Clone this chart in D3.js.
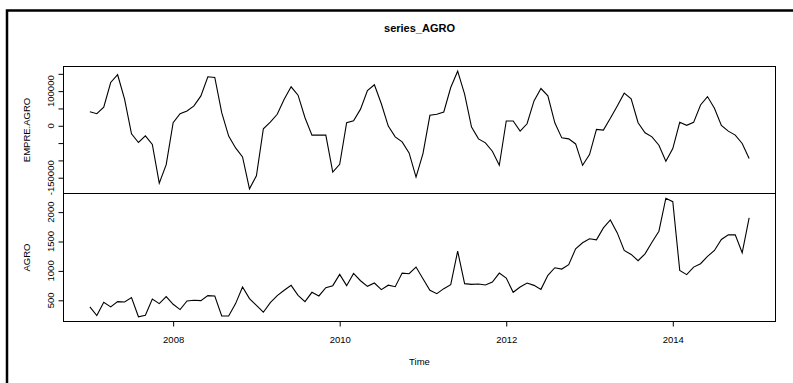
<!DOCTYPE html>
<html>
<head>
<meta charset="utf-8">
<script src="https://cdn.jsdelivr.net/npm/d3@7"></script>
<style>
  html, body { margin: 0; padding: 0; background: #fff; }
  svg { display: block; }
  text { font-family: "Liberation Sans", Arial, Helvetica, sans-serif; fill: #000; }
</style>
</head>
<body>
<svg id="chart" width="793" height="383"></svg>
<script>
// Monthly series, Jan 2007 .. Dec 2014
const startYear = 2007;
const empreAgro = [
  40700, 34900, 53500, 125000, 147400, 76700, -23300, -48300, -29100, -54100, -165700, -112200,
  8700, 34900, 42700, 57300, 86300, 141600, 139500, 37800, -29900, -64000, -90100, -182000,
  -144200, -8700, 10800, 33100, 76700, 112500, 88400, 23300, -27000, -27000, -27000, -133700,
  -111300, 8700, 14500, 48000, 102000, 118500, 63500, -900, -32000, -46500, -78500, -148300,
  -80200, 30200, 33100, 39800, 110500, 157600, 91300, -3800, -37800, -49400, -73500, -114200,
  13700, 13700, -15400, 5800, 71800, 107600, 86300, 8700, -34900, -37800, -52500, -114200,
  -83200, -10500, -12500, 21500, 57300, 94200, 77600, 8700, -20300, -32000, -56100, -102600,
  -65700, 9900, 1200, 9900, 60200, 84300, 50600, 1200, -15400, -27000, -51200, -94800
];
const agro = [
  387, 240, 466, 387, 478, 472, 545, 220, 246, 522, 444, 562,
  432, 342, 489, 500, 494, 579, 574, 234, 234, 444, 726, 528,
  415, 297, 460, 579, 670, 754, 585, 478, 636, 574, 715, 749,
  941, 749, 958, 833, 737, 794, 681, 757, 731, 963, 952, 1065,
  867, 670, 613, 698, 766, 1336, 783, 771, 777, 760, 811, 963,
  878, 636, 726, 794, 754, 686, 924, 1054, 1031, 1105, 1376, 1478,
  1546, 1529, 1732, 1868, 1647, 1348, 1280, 1173, 1291, 1488, 1675, 2236,
  2178, 1009, 936, 1065, 1122, 1246, 1348, 1534, 1613, 1613, 1308, 1902
];
const topTicks = [-150000, -100000, -50000, 0, 50000, 100000, 150000];
const topTickLabels = [-150000, 0, 100000];
const bottomTicks = [500, 1000, 1500, 2000];
const xTicks = [2008, 2010, 2012, 2014];
const titleText = "series_AGRO";
const topLabel = "EMPRE.AGRO";
const bottomLabel = "AGRO";
const xLabel = "Time";

const svg = d3.select("#chart");
const fontSize = 9.5;

// R-style axis extension: 4% on each side of the data range
function padded(ext) {
  const r = ext[1] - ext[0];
  return [ext[0] - 0.04 * r, ext[1] + 0.04 * r];
}

const times = empreAgro.map((_, i) => startYear + i / 12);
const plotL = 63.5, plotR = 775.5;
const topY0 = 66.5, midY = 193.5, botY1 = 321.5;

const x = d3.scaleLinear().domain(padded(d3.extent(times))).range([plotL, plotR]);
const yTop = d3.scaleLinear().domain(padded(d3.extent(empreAgro))).range([midY, topY0]);
const yBot = d3.scaleLinear().domain(padded(d3.extent(agro))).range([botY1, midY]);

// outer device frame (only top and left edges fall inside the page)
svg.append("rect")
  .attr("x", 7).attr("y", 10.5).attr("width", 900).attr("height", 500)
  .attr("fill", "none").attr("stroke", "#000").attr("stroke-width", 2.5);

// title
svg.append("text")
  .attr("x", (plotL + plotR) / 2).attr("y", 32)
  .attr("text-anchor", "middle")
  .style("font-size", "11px").style("font-weight", "bold")
  .text(titleText);

// panel boxes
[[topY0, midY], [midY, botY1]].forEach(([a, b]) => {
  svg.append("rect")
    .attr("x", plotL).attr("y", a).attr("width", plotR - plotL).attr("height", b - a)
    .attr("fill", "none").attr("stroke", "#000").attr("stroke-width", 1);
});

// left axes
function leftAxis(scale, ticks, labels) {
  const g = svg.append("g").attr("transform", `translate(${plotL},0)`);
  g.call(d3.axisLeft(scale).tickValues(ticks).tickSize(5).tickSizeOuter(0).tickFormat(""));
  g.select(".domain").attr("d", `M0,${scale(d3.min(ticks))}V${scale(d3.max(ticks))}`);
  g.selectAll("line, path").attr("stroke", "#000");
  labels.forEach(v => {
    g.append("text")
      .attr("transform", `translate(-10,${scale(v)}) rotate(-90)`)
      .attr("text-anchor", "middle")
      .style("font-size", fontSize + "px")
      .text(v);
  });
  return g;
}
leftAxis(yTop, topTicks, topTickLabels);
leftAxis(yBot, bottomTicks, bottomTicks);

// y titles
svg.append("text")
  .attr("transform", `translate(30,${(topY0 + midY) / 2}) rotate(-90)`)
  .attr("text-anchor", "middle").style("font-size", fontSize + "px")
  .text(topLabel);
svg.append("text")
  .attr("transform", `translate(30,${(midY + botY1) / 2}) rotate(-90)`)
  .attr("text-anchor", "middle").style("font-size", fontSize + "px")
  .text(bottomLabel);

// bottom time axis
const gx = svg.append("g").attr("transform", `translate(0,${botY1})`);
gx.call(d3.axisBottom(x).tickValues(xTicks).tickSize(5).tickSizeOuter(0).tickFormat(d3.format("d")));
gx.select(".domain").attr("d", `M${x(d3.min(xTicks))},0H${x(d3.max(xTicks))}`);
gx.selectAll("line, path").attr("stroke", "#000");
gx.selectAll("text").attr("y", 21).attr("dy", 0).style("font-size", fontSize + "px")
  .style("font-family", '"Liberation Sans", Arial, sans-serif').attr("fill", "#000");

svg.append("text")
  .attr("x", (plotL + plotR) / 2).attr("y", 365)
  .attr("text-anchor", "middle").style("font-size", fontSize + "px")
  .text(xLabel);

// series lines
const lineTop = d3.line().x((d, i) => x(times[i])).y(d => yTop(d));
const lineBot = d3.line().x((d, i) => x(times[i])).y(d => yBot(d));

svg.append("path").datum(empreAgro)
  .attr("d", lineTop).attr("fill", "none").attr("stroke", "#000").attr("stroke-width", 1.1);
svg.append("path").datum(agro)
  .attr("d", lineBot).attr("fill", "none").attr("stroke", "#000").attr("stroke-width", 1.1);
</script>
</body>
</html>
